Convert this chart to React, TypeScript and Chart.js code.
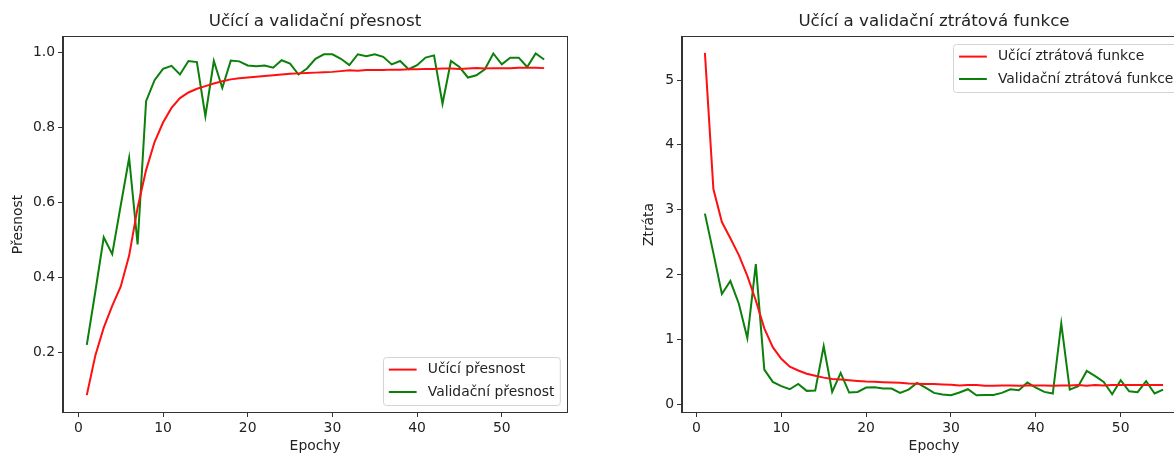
import React, { useEffect, useRef } from "react";
import { Chart, registerables } from "chart.js";

Chart.register(...registerables);

const epochs = [
  1, 2, 3, 4, 5, 6, 7, 8, 9, 10, 11, 12, 13, 14, 15, 16, 17, 18, 19, 20,
  21, 22, 23, 24, 25, 26, 27, 28, 29, 30, 31, 32, 33, 34, 35, 36, 37, 38, 39, 40,
  41, 42, 43, 44, 45, 46, 47, 48, 49, 50, 51, 52, 53, 54, 55,
];

const trainAcc = [
  0.085, 0.19, 0.265, 0.323, 0.374, 0.457, 0.585, 0.685, 0.76, 0.812,
  0.851, 0.877, 0.892, 0.902, 0.909, 0.916, 0.922, 0.927, 0.93, 0.932,
  0.934, 0.936, 0.938, 0.94, 0.942, 0.943, 0.944, 0.945, 0.946, 0.947,
  0.949, 0.951, 0.95, 0.952, 0.952, 0.952, 0.953, 0.953, 0.954, 0.954,
  0.955, 0.955, 0.956, 0.956, 0.955, 0.956, 0.957, 0.956, 0.957, 0.957,
  0.957, 0.958, 0.958, 0.958, 0.957,
];

const valAcc = [
  0.219, 0.36, 0.506, 0.461, 0.59, 0.718, 0.487, 0.869, 0.925, 0.955,
  0.963, 0.94, 0.976, 0.973, 0.829, 0.976, 0.904, 0.977, 0.975, 0.964,
  0.962, 0.964, 0.958, 0.978, 0.969, 0.94, 0.956, 0.982, 0.994, 0.994,
  0.982, 0.965, 0.994, 0.989, 0.994, 0.987, 0.967, 0.976, 0.954, 0.965,
  0.985, 0.991, 0.862, 0.976, 0.96, 0.932, 0.938, 0.954, 0.996, 0.967,
  0.985, 0.985, 0.96, 0.996, 0.98,
];

const trainLoss = [
  5.42, 3.32, 2.81, 2.56, 2.3, 1.98, 1.6, 1.17, 0.88, 0.7,
  0.58, 0.52, 0.47, 0.44, 0.41, 0.39, 0.38, 0.37, 0.36, 0.35,
  0.345, 0.34, 0.335, 0.33, 0.32, 0.315, 0.31, 0.31, 0.305, 0.3,
  0.29, 0.295, 0.295, 0.285, 0.285, 0.29, 0.29, 0.285, 0.29, 0.29,
  0.29, 0.285, 0.29, 0.29, 0.295, 0.285, 0.295, 0.29, 0.295, 0.295,
  0.295, 0.295, 0.295, 0.295, 0.295,
];

const valLoss = [
  2.94, 2.33, 1.7, 1.9, 1.55, 1.02, 2.16, 0.535, 0.345, 0.278,
  0.231, 0.314, 0.206, 0.21, 0.895, 0.19, 0.483, 0.18, 0.19, 0.257,
  0.26, 0.242, 0.242, 0.175, 0.226, 0.329, 0.257, 0.175, 0.15, 0.139,
  0.18, 0.231, 0.139, 0.144, 0.144, 0.175, 0.231, 0.216, 0.334, 0.257,
  0.19, 0.165, 1.245, 0.226, 0.278, 0.514, 0.432, 0.344, 0.154, 0.37,
  0.2, 0.185, 0.355, 0.165, 0.226,
];

const epochTicks = [0, 10, 20, 30, 40, 50];
const accTicks = [0.2, 0.4, 0.6, 0.8, 1.0];
const lossTicks = [0, 1, 2, 3, 4, 5];

const FONT = "'DejaVu Sans', sans-serif";
const TEXT = "#222222";
const AXIS = "#333333";
const RED = "#ff1010";
const GREEN = "#0b800b";
const FS = 13.9;
const TITLE_FS = 16.7;

const framePlugin = {
  id: "frame",
  afterDraw(chart: any) {
    const { ctx, chartArea } = chart;
    const { left, top, right, bottom } = chartArea;
    ctx.save();
    ctx.strokeStyle = AXIS;
    ctx.lineWidth = 1;
    ctx.strokeRect(Math.round(left) - 0.5, Math.round(top) - 0.5, Math.round(right - left) + 1, Math.round(bottom - top) + 1);
    ctx.restore();
  },
};

const axesTitlePlugin = {
  id: "axesTitle",
  afterDraw(chart: any, _args: any, opts: any) {
    if (!opts || !opts.text) return;
    const { ctx, chartArea } = chart;
    ctx.save();
    ctx.font = `${TITLE_FS}px ${FONT}`;
    ctx.fillStyle = TEXT;
    ctx.textAlign = "center";
    ctx.textBaseline = "middle";
    ctx.fillText(opts.text, (chartArea.left + chartArea.right) / 2, opts.y);
    ctx.restore();
  },
};

const boxLegendPlugin = {
  id: "boxLegend",
  afterDraw(chart: any, _args: any, opts: any) {
    if (!opts || !opts.items) return;
    const { ctx, chartArea } = chart;
    ctx.save();
    ctx.font = `${FS}px ${FONT}`;
    let maxW = 0;
    for (const it of opts.items) maxW = Math.max(maxW, ctx.measureText(it.label).width);
    const padL = 5.6, lineLen = 27.8, gap = 11.1, padR = 5.6;
    const rowH = 22.4;
    const boxW = padL + lineLen + gap + maxW + padR;
    const boxH = 48;
    const right = chartArea.right - 7;
    const x = right - boxW;
    const y = opts.corner === "tr" ? chartArea.top + 7 : chartArea.bottom - 7 - boxH;
    ctx.fillStyle = "rgba(255,255,255,0.85)";
    ctx.strokeStyle = "#d4d4d4";
    ctx.lineWidth = 1;
    ctx.beginPath();
    const r = 3;
    const bx = Math.round(x) + 0.5, by = Math.round(y) + 0.5;
    ctx.moveTo(bx + r, by);
    ctx.lineTo(bx + boxW - r, by);
    ctx.arcTo(bx + boxW, by, bx + boxW, by + r, r);
    ctx.lineTo(bx + boxW, by + boxH - r);
    ctx.arcTo(bx + boxW, by + boxH, bx + boxW - r, by + boxH, r);
    ctx.lineTo(bx + r, by + boxH);
    ctx.arcTo(bx, by + boxH, bx, by + boxH - r, r);
    ctx.lineTo(bx, by + r);
    ctx.arcTo(bx, by, bx + r, by, r);
    ctx.closePath();
    ctx.fill();
    ctx.stroke();
    opts.items.forEach((it: any, i: number) => {
      const cy = y + 12.6 + i * rowH;
      ctx.strokeStyle = it.color;
      ctx.lineWidth = 2;
      ctx.beginPath();
      ctx.moveTo(x + padL, cy);
      ctx.lineTo(x + padL + lineLen, cy);
      ctx.stroke();
      ctx.fillStyle = TEXT;
      ctx.textBaseline = "middle";
      ctx.textAlign = "left";
      ctx.fillText(it.label, x + padL + lineLen + gap, cy);
    });
    ctx.restore();
  },
};

function makeConfig(p: {
  title: string;
  yTitle: string;
  train: number[];
  val: number[];
  trainLabel: string;
  valLabel: string;
  xMin: number;
  xMax: number;
  yMin: number;
  yMax: number;
  yTicks: number[];
  yDecimals: number;
  yWidth: number;
  yTitlePad: number;
  padRight: number;
  corner: string;
}): any {
  const font = { family: FONT, size: FS };
  return {
    type: "line",
    data: {
      datasets: [
        {
          label: p.trainLabel,
          data: epochs.map((e, i) => ({ x: e, y: p.train[i] })),
          borderColor: RED,
          borderWidth: 2,
          pointRadius: 0,
          tension: 0,
          fill: false,
        },
        {
          label: p.valLabel,
          data: epochs.map((e, i) => ({ x: e, y: p.val[i] })),
          borderColor: GREEN,
          borderWidth: 2,
          pointRadius: 0,
          tension: 0,
          fill: false,
        },
      ],
    },
    options: {
      animation: false,
      responsive: false,
      events: [],
      layout: { padding: { left: 0, right: p.padRight, top: 37, bottom: 0 } },
      plugins: {
        legend: { display: false },
        tooltip: { enabled: false },
        title: { display: false },
        axesTitle: { text: p.title, y: 22 },
        boxLegend: {
          corner: p.corner,
          items: [
            { label: p.trainLabel, color: RED },
            { label: p.valLabel, color: GREEN },
          ],
        },
      },
      scales: {
        x: {
          type: "linear",
          min: p.xMin,
          max: p.xMax,
          afterBuildTicks: (s: any) => {
            s.ticks = epochTicks.map((v) => ({ value: v }));
          },
          afterFit: (s: any) => {
            s.height = 43;
          },
          ticks: { color: TEXT, font, padding: 3, callback: (v: any) => String(v) },
          grid: { drawOnChartArea: false, drawTicks: true, tickLength: 5, tickColor: AXIS, color: AXIS },
          border: { display: true, color: AXIS },
          title: { display: true, text: "Epochy", color: TEXT, font, padding: { top: 0, bottom: 0 } },
        },
        y: {
          type: "linear",
          min: p.yMin,
          max: p.yMax,
          afterBuildTicks: (s: any) => {
            s.ticks = p.yTicks.map((v) => ({ value: v }));
          },
          afterFit: (s: any) => {
            s.width = p.yWidth;
          },
          ticks: { color: TEXT, font, padding: 3, callback: (v: any) => Number(v).toFixed(p.yDecimals) },
          grid: { drawOnChartArea: false, drawTicks: true, tickLength: 5, tickColor: AXIS, color: AXIS },
          border: { display: true, color: AXIS },
          title: { display: true, text: p.yTitle, color: TEXT, font, padding: { top: p.yTitlePad, bottom: 0 } },
        },
      },
    },
    plugins: [framePlugin, axesTitlePlugin, boxLegendPlugin],
  };
}

function ChartCanvas({ config, width, height, left }: { config: any; width: number; height: number; left: number }) {
  const ref = useRef<HTMLCanvasElement | null>(null);
  useEffect(() => {
    if (!ref.current) return;
    const chart = new Chart(ref.current, config);
    return () => chart.destroy();
  }, [config]);
  return (
    <div style={{ position: "absolute", left, top: 0, width, height }}>
      <canvas ref={ref} width={width} height={height} style={{ width, height, display: "block" }} />
    </div>
  );
}

const accConfig = makeConfig({
  title: "Učící a validační přesnost",
  yTitle: "Přesnost",
  train: trainAcc,
  val: valAcc,
  trainLabel: "Učící přesnost",
  valLabel: "Validační přesnost",
  xMin: -1.81,
  xMax: 57.7,
  yMin: 0.04,
  yMax: 1.04,
  yTicks: accTicks,
  yDecimals: 1,
  yWidth: 63,
  yTitlePad: 10,
  padRight: 33,
  corner: "br",
});

const lossConfig = makeConfig({
  title: "Učící a validační ztrátová funkce",
  yTitle: "Ztráta",
  train: trainLoss,
  val: valLoss,
  trainLabel: "Učící ztrátová funkce",
  valLabel: "Validační ztrátová funkce",
  xMin: -1.7,
  xMax: 57.7,
  yMin: -0.12,
  yMax: 5.664,
  yTicks: lossTicks,
  yDecimals: 0,
  yWidth: 82,
  yTitlePad: 41,
  padRight: 34,
  corner: "tr",
});

export default function App() {
  return (
    <div
      style={{
        position: "fixed",
        left: 0,
        top: 0,
        width: 1174,
        height: 455,
        overflow: "hidden",
        background: "#ffffff",
      }}
    >
      <ChartCanvas config={accConfig} width={600} height={455} left={0} />
      <ChartCanvas config={lossConfig} width={620} height={455} left={600} />
    </div>
  );
}
